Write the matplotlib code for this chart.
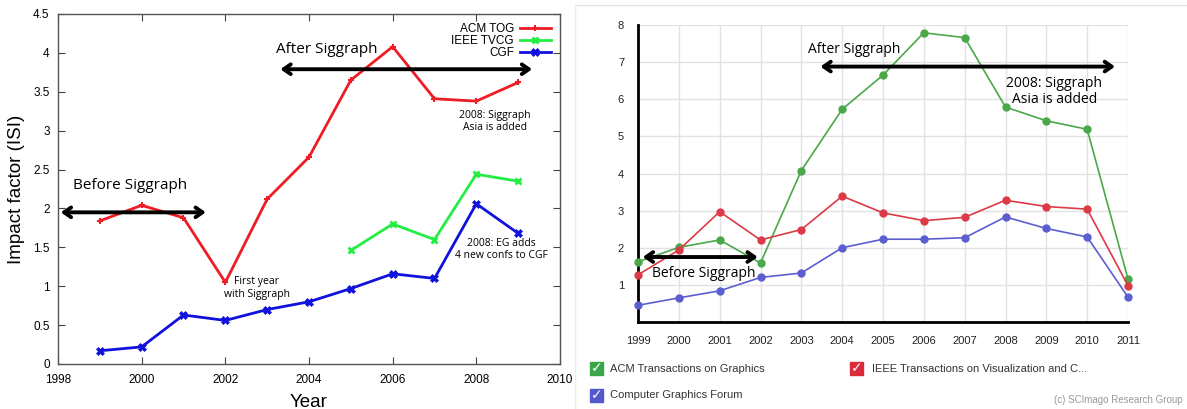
import matplotlib.pyplot as plt
from matplotlib.patches import Rectangle
from matplotlib.lines import Line2D

# ---- left panel data (ISI impact factor) ----
isi_years = [1999, 2000, 2001, 2002, 2003, 2004, 2005, 2006, 2007, 2008, 2009]
isi_tog = [1.84, 2.04, 1.88, 1.05, 2.12, 2.66, 3.65, 4.08, 3.41, 3.38, 3.62]
isi_tvcg_years = [2005, 2006, 2007, 2008, 2009]
isi_tvcg = [1.46, 1.80, 1.60, 2.44, 2.35]
isi_cgf = [0.17, 0.22, 0.63, 0.56, 0.70, 0.80, 0.97, 1.16, 1.10, 2.06, 1.68]

# ---- right panel data (SCImago) ----
sj_years = [1999, 2000, 2001, 2002, 2003, 2004, 2005, 2006, 2007, 2008, 2009, 2010, 2011]
sj_tog = [1.62, 2.01, 2.21, 1.59, 4.08, 5.73, 6.65, 7.79, 7.66, 5.79, 5.42, 5.19, 1.16]
sj_tvcg = [1.27, 1.94, 2.97, 2.21, 2.49, 3.39, 2.94, 2.73, 2.82, 3.28, 3.11, 3.04, 0.98]
sj_cgf = [0.45, 0.65, 0.84, 1.20, 1.32, 2.00, 2.23, 2.23, 2.27, 2.83, 2.52, 2.29, 0.67]

plt.rcParams['font.family'] = ['Liberation Sans', 'DejaVu Sans']

W, H = 1187, 409
fig = plt.figure(figsize=(W / 100, H / 100), dpi=100)
fig.patch.set_facecolor('white')


def box(l, t, r, b):
    return [l / W, (H - b) / H, (r - l) / W, (b - t) / H]


note_font = ['Open Sans', 'DejaVu Sans']

# ================= left panel =================
ax = fig.add_axes(box(58, 14, 560, 364))
ax.plot(isi_years, isi_tog, '-', color='#ee1c25', lw=2, marker='+', ms=5, mew=1.5, label='ACM TOG')
ax.plot(isi_tvcg_years, isi_tvcg, '-', color='#22ee44', lw=2, marker='x', ms=5, mew=2, label='IEEE TVCG')
ax.plot(isi_years, isi_cgf, '-', color='#1111dd', lw=2, marker='X', ms=6, mew=0.5, label='CGF')
ax.set_xlim(1998, 2010)
ax.set_ylim(0, 4.5)
ax.set_xticks(range(1998, 2011, 2))
ax.set_yticks([i * 0.5 for i in range(10)])
ax.set_yticklabels(['0', '0.5', '1', '1.5', '2', '2.5', '3', '3.5', '4', '4.5'])
ax.tick_params(direction='in', top=True, right=True, labelsize=8.5, length=5, color='#444444')
ax.tick_params(axis='x', pad=7)
ax.tick_params(axis='y', pad=6)
for s in ax.spines.values():
    s.set_color('#555555')
    s.set_linewidth(1)
ax.set_ylabel('Impact factor (ISI)', fontsize=13.5, labelpad=6)
ax.set_xlabel('Year', fontsize=13.5, labelpad=6)
ax.legend(loc='upper right', frameon=False, fontsize=8.5, markerfirst=False,
          handlelength=2.6, labelspacing=0, borderaxespad=0.4, handletextpad=0.5)

arrow = dict(arrowstyle='<->,head_length=0.5,head_width=0.35', lw=2.8, color='black')
ax.annotate('', xy=(1998.0, 1.95), xytext=(2001.6, 1.95), arrowprops=arrow)
ax.annotate('', xy=(2003.25, 3.79), xytext=(2009.4, 3.79), arrowprops=arrow)
ax.text(1998.35, 2.3, 'Before Siggraph', fontsize=11, family=note_font, va='center')
ax.text(2003.2, 4.05, 'After Siggraph', fontsize=11, family=note_font, va='center')
ax.text(2002.75, 0.98, 'First year\nwith Siggraph', fontsize=7.5, family=note_font,
        ha='center', va='center', linespacing=1.2)
ax.text(2008.45, 3.12, '2008: Siggraph\nAsia is added', fontsize=7.5, family=note_font,
        ha='center', va='center', linespacing=1.2)
ax.text(2008.6, 1.47, '2008: EG adds\n4 new confs to CGF', fontsize=7.5, family=note_font,
        ha='center', va='center', linespacing=1.2)

# ================= right panel =================
fig.add_artist(Line2D([575 / W, 1], [1 - 5 / H, 1 - 5 / H], color='#e4e4e4', lw=1))
fig.add_artist(Line2D([575 / W, 575 / W], [0, 1 - 5 / H], color='#eeeeee', lw=1))

bx = fig.add_axes(box(638, 25, 1128, 322))
bx.set_xlim(1999, 2011)
bx.set_ylim(0, 8)
bx.set_xticks(sj_years)
bx.set_yticks(range(1, 9))
bx.grid(True, color='#e2e2e2', lw=1)
bx.set_axisbelow(True)
bx.tick_params(length=0, labelsize=8, colors='#222222', pad=10)
bx.spines['top'].set_visible(False)
bx.spines['right'].set_visible(False)
bx.spines['left'].set_linewidth(2)
bx.spines['bottom'].set_linewidth(2)
bx.plot(sj_years, sj_tog, '-', color='#4aa84a', lw=1.2, marker='o', ms=5, clip_on=False, zorder=3)
bx.plot(sj_years, sj_tvcg, '-', color='#dd3a48', lw=1.2, marker='o', ms=5, clip_on=False, zorder=3)
bx.plot(sj_years, sj_cgf, '-', color='#5c5ed0', lw=1.2, marker='o', ms=5, clip_on=False, zorder=3)

bx.annotate('', xy=(1999.05, 1.75), xytext=(2002.0, 1.75), arrowprops=arrow, zorder=5)
bx.annotate('', xy=(2003.4, 6.88), xytext=(2010.75, 6.88), arrowprops=arrow, zorder=5)
bx.text(2000.6, 1.3, 'Before Siggraph', fontsize=10, family=note_font, ha='center', va='center')
bx.text(2004.3, 7.35, 'After Siggraph', fontsize=10, family=note_font, ha='center', va='center')
bx.text(2009.2, 6.2, '2008: Siggraph\nAsia is added', fontsize=10, family=note_font,
        ha='center', va='center', linespacing=1.1)

# checkbox legend
legend_items = [('ACM Transactions on Graphics', '#3aa64a', 590, 362, 610),
                ('IEEE Transactions on Visualization and C...', '#dd2a3a', 850, 362, 872),
                ('Computer Graphics Forum', '#5558cc', 590, 389, 610)]
for name, col, sx, sy, tx in legend_items:
    fig.add_artist(Rectangle((sx / W, 1 - (sy + 13) / H), 13 / W, 13 / H, color=col,
                             transform=fig.transFigure))
    fig.text((sx + 6.5) / W, 1 - (sy + 6.5) / H, '\u2713', color='white', fontsize=10,
             ha='center', va='center', fontweight='bold', family='DejaVu Sans')
    fig.text(tx / W, 1 - (sy + 6.5) / H, name, fontsize=8, color='#333333', va='center')
fig.text(1183 / W, 1 - 400 / H, '(c) SCImago Research Group', fontsize=7,
         color='#999999', ha='right', va='center')

fig.savefig('out.png', dpi=100)
